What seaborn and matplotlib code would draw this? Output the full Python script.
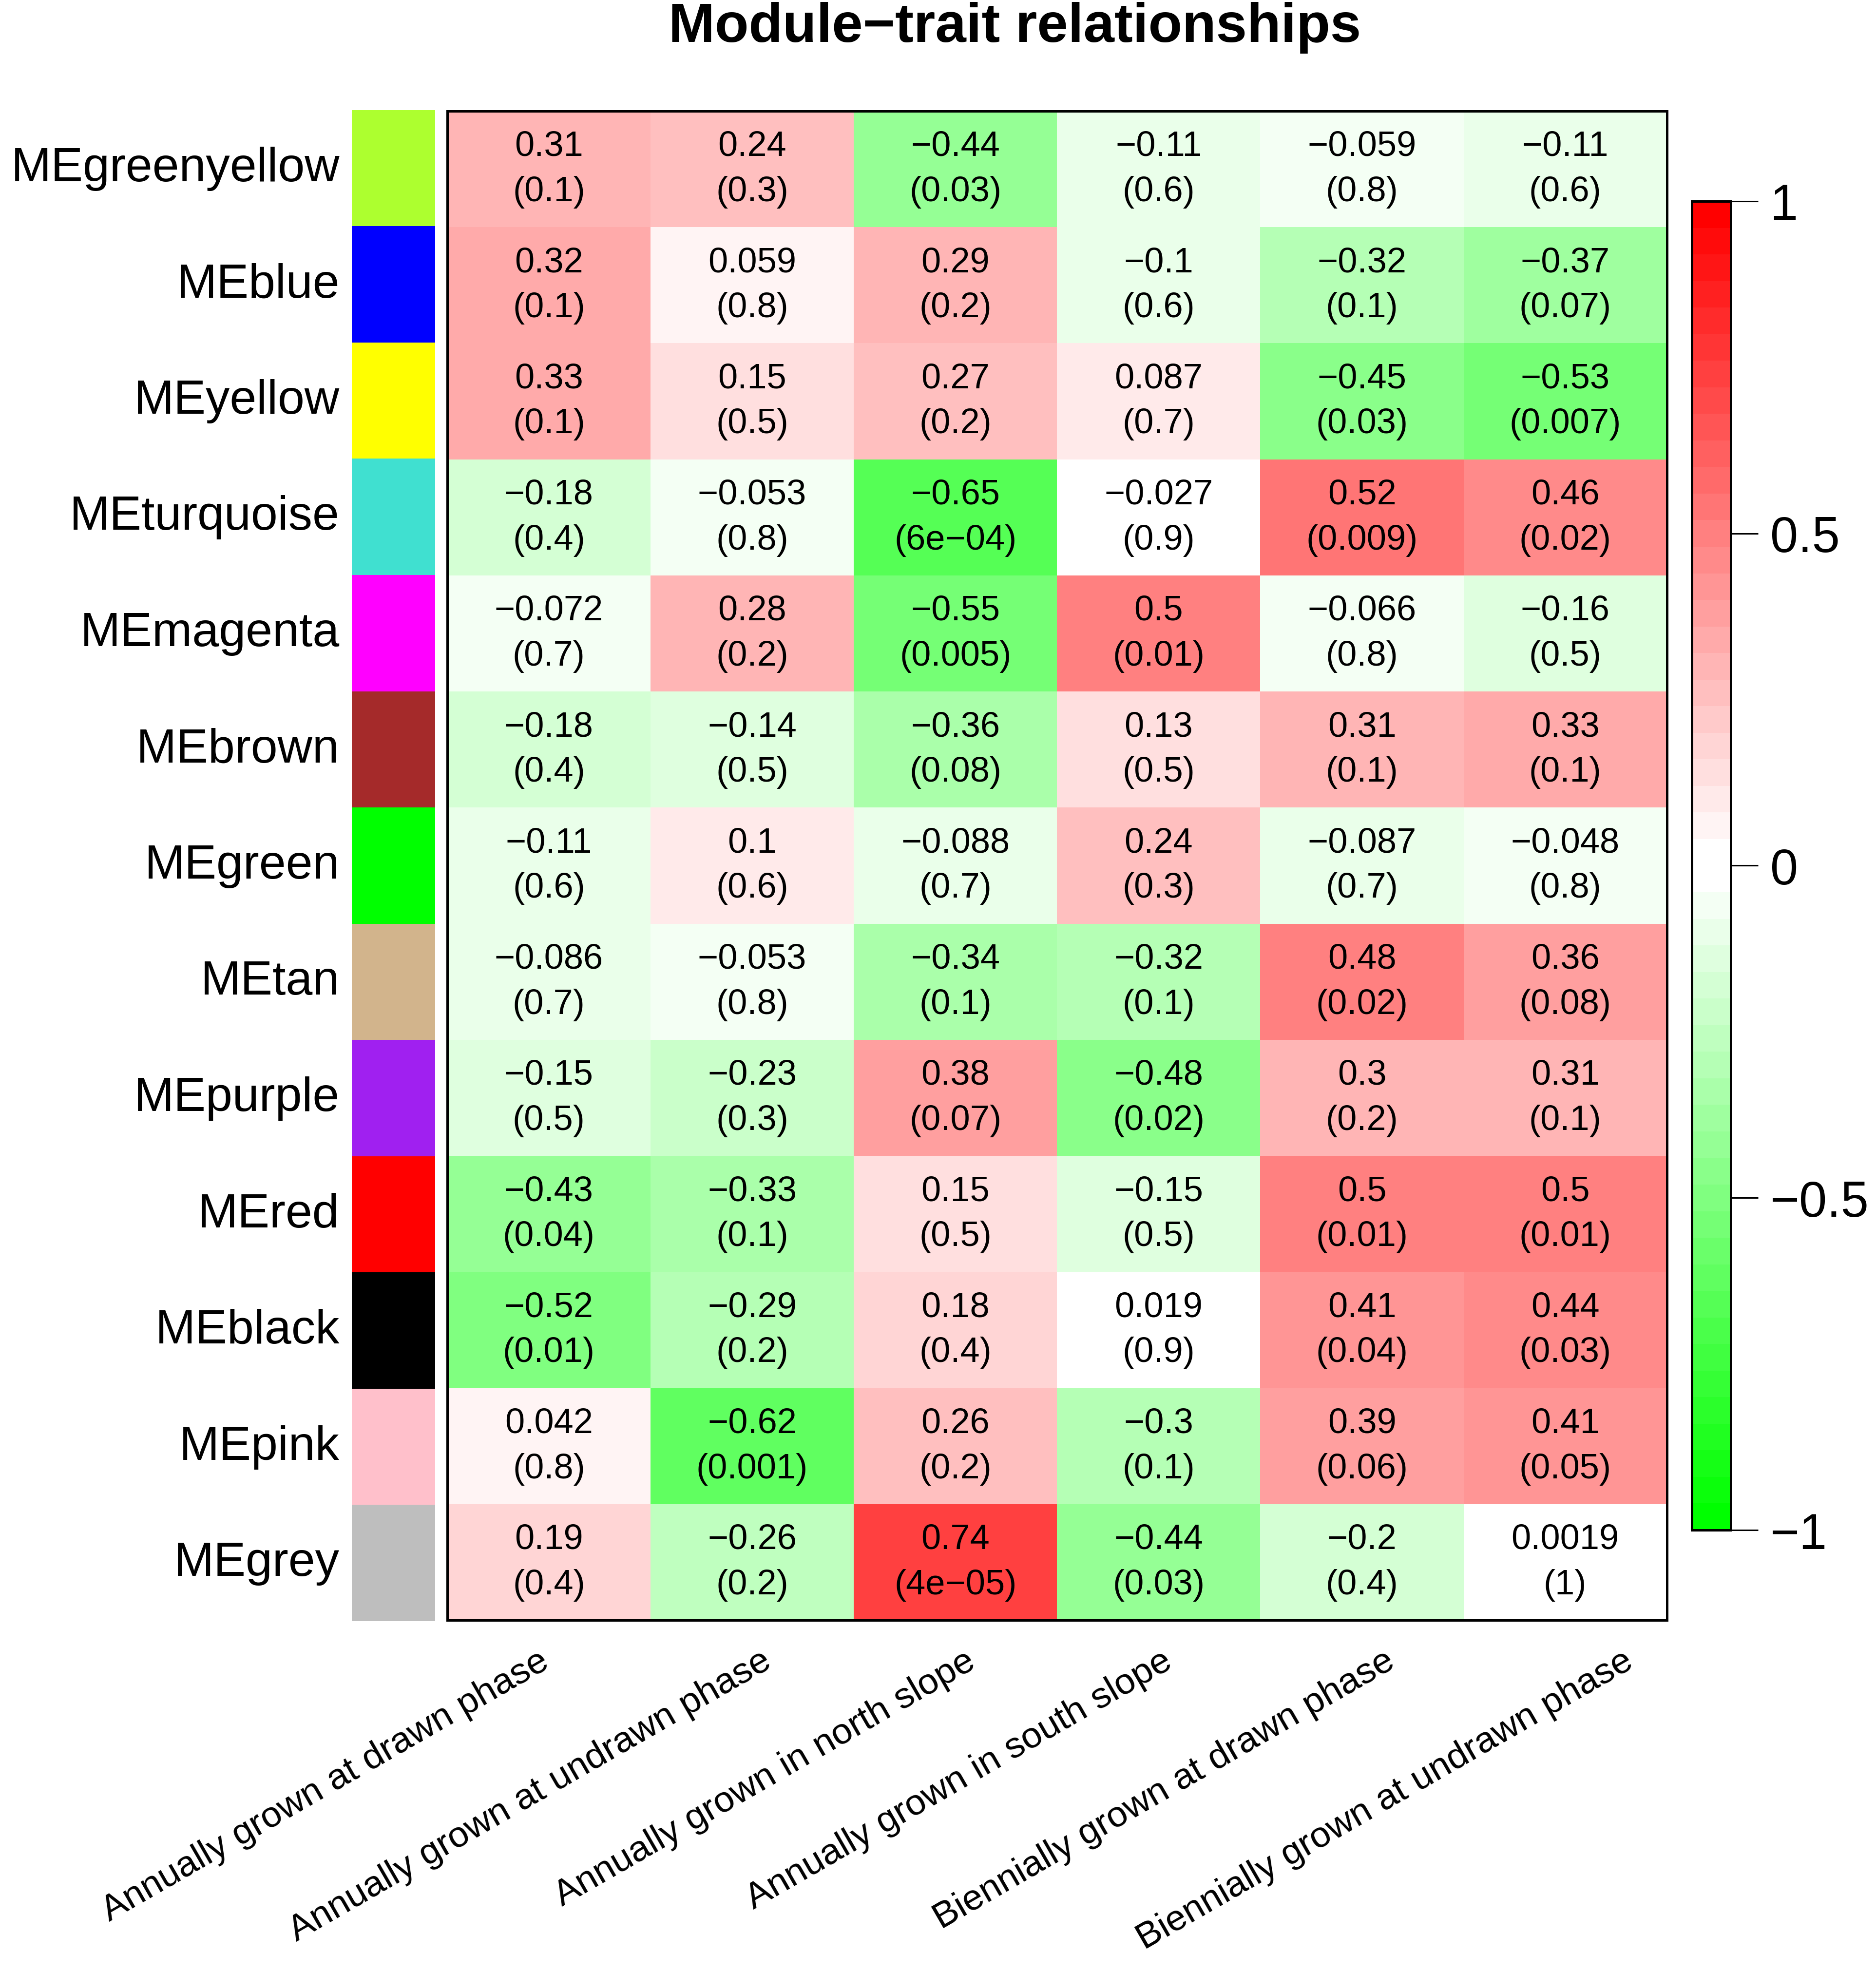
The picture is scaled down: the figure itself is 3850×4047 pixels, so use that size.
import numpy as np
import pandas as pd
import matplotlib
matplotlib.use("Agg")
import matplotlib.pyplot as plt
import matplotlib.transforms as mtransforms
import seaborn as sns
from matplotlib.colors import ListedColormap

# module eigengenes (rows) and their colours
modules = ["MEgreenyellow", "MEblue", "MEyellow", "MEturquoise", "MEmagenta",
           "MEbrown", "MEgreen", "MEtan", "MEpurple", "MEred", "MEblack",
           "MEpink", "MEgrey"]
module_colors = ["#ADFF2F", "#0000FF", "#FFFF00", "#40E0D0", "#FF00FF",
                 "#A52A2A", "#00FF00", "#D2B48C", "#A020F0", "#FF0000",
                 "#000000", "#FFC0CB", "#BEBEBE"]

traits = ["Annually grown at drawn phase", "Annually grown at undrawn phase",
          "Annually grown in north slope", "Annually grown in south slope",
          "Biennially grown at drawn phase", "Biennially grown at undrawn phase"]

# correlations
cor = [
    [0.31, 0.24, -0.44, -0.11, -0.059, -0.11],
    [0.32, 0.059, 0.29, -0.1, -0.32, -0.37],
    [0.33, 0.15, 0.27, 0.087, -0.45, -0.53],
    [-0.18, -0.053, -0.65, -0.027, 0.52, 0.46],
    [-0.072, 0.28, -0.55, 0.5, -0.066, -0.16],
    [-0.18, -0.14, -0.36, 0.13, 0.31, 0.33],
    [-0.11, 0.1, -0.088, 0.24, -0.087, -0.048],
    [-0.086, -0.053, -0.34, -0.32, 0.48, 0.36],
    [-0.15, -0.23, 0.38, -0.48, 0.3, 0.31],
    [-0.43, -0.33, 0.15, -0.15, 0.5, 0.5],
    [-0.52, -0.29, 0.18, 0.019, 0.41, 0.44],
    [0.042, -0.62, 0.26, -0.3, 0.39, 0.41],
    [0.19, -0.26, 0.74, -0.44, -0.2, 0.0019],
]

# p-values as printed
pval = [
    ["0.1", "0.3", "0.03", "0.6", "0.8", "0.6"],
    ["0.1", "0.8", "0.2", "0.6", "0.1", "0.07"],
    ["0.1", "0.5", "0.2", "0.7", "0.03", "0.007"],
    ["0.4", "0.8", "6e−04", "0.9", "0.009", "0.02"],
    ["0.7", "0.2", "0.005", "0.01", "0.8", "0.5"],
    ["0.4", "0.5", "0.08", "0.5", "0.1", "0.1"],
    ["0.6", "0.6", "0.7", "0.3", "0.7", "0.8"],
    ["0.7", "0.8", "0.1", "0.1", "0.02", "0.08"],
    ["0.5", "0.3", "0.07", "0.02", "0.2", "0.1"],
    ["0.04", "0.1", "0.5", "0.5", "0.01", "0.01"],
    ["0.01", "0.2", "0.4", "0.9", "0.04", "0.03"],
    ["0.8", "0.001", "0.2", "0.1", "0.06", "0.05"],
    ["0.4", "0.2", "4e−05", "0.03", "0.4", "1"],
]

# small horizontal nudges (points) of the rotated trait labels, as in the original
xlab_nudge = [-2, 12, 12.5, 8, 22, 48]


def green_white_red(n=50):
    # same construction as WGCNA::greenWhiteRed
    half = n // 2
    up = np.linspace(0, 1, half)
    down = np.linspace(1, 0, half)
    r = np.concatenate([up, np.ones(half)])
    g = np.concatenate([np.ones(half), down])
    b = np.concatenate([up, down])
    return ListedColormap(np.column_stack([r, g, b]))


def main():
    df = pd.DataFrame(cor, index=modules, columns=traits)
    labels = np.array([[f"{c:g}".replace("-", "\u2212") + f"\n({p})"
                        for c, p in zip(rc, rp)] for rc, rp in zip(cor, pval)])

    plt.rcParams['font.family'] = ['Liberation Sans', 'DejaVu Sans']
    plt.rcParams['axes.unicode_minus'] = True

    fig = plt.figure(figsize=(19.25, 20.24), dpi=200)
    ax = fig.add_axes([0.2384, 0.17836, 0.6501, 0.7651])
    sax = fig.add_axes([0.18753, 0.17787, 0.04442, 0.7661])
    cax = fig.add_axes([0.90182, 0.22406, 0.02078, 0.67367])

    sns.heatmap(df, ax=ax, cmap=green_white_red(50), vmin=-1, vmax=1,
                annot=labels, fmt="",
                annot_kws={"size": 26, "color": "black", "linespacing": 1.5},
                cbar_ax=cax, yticklabels=False, xticklabels=False)
    for s in ax.spines.values():
        s.set_visible(True)
        s.set_linewidth(1.8)
        s.set_color("black")
    ax.set_xlabel("")
    ax.set_ylabel("")
    ax.tick_params(axis="x", length=0)

    # rotated trait labels under the columns
    base = ax.get_xaxis_transform()
    for i, (name, dx) in enumerate(zip(traits, xlab_nudge)):
        tr = mtransforms.offset_copy(base, fig=fig, x=dx, y=-28, units="points")
        ax.text(i + 0.5, 0, name, transform=tr, rotation=30, ha="right",
                va="center", rotation_mode="anchor", fontsize=27, clip_on=False)

    # module colour strip
    strip = pd.DataFrame({"m": np.arange(len(modules))}, index=modules)
    sns.heatmap(strip, ax=sax, cmap=ListedColormap(module_colors), cbar=False,
                xticklabels=False, yticklabels=modules)
    sax.set_ylabel("")
    sax.tick_params(axis="y", length=0, pad=9)
    sax.set_yticklabels(modules, rotation=0, fontsize=35.5)

    # colourbar
    cb = ax.collections[0].colorbar
    cb.set_ticks([-1, -0.5, 0, 0.5, 1])
    cb.set_ticklabels(["\u22121", "\u22120.5", "0", "0.5", "1"])
    cb.outline.set_linewidth(1.8)
    cb.outline.set_edgecolor("black")
    cax.tick_params(labelsize=37, length=20, width=1.1, pad=9)

    fig.text(0.541, 0.986, "Module\u2212trait relationships", ha="center", va="center",
             fontsize=41, fontweight="bold")

    fig.savefig("out.png", dpi=200, facecolor="white")


if __name__ == "__main__":
    main()
